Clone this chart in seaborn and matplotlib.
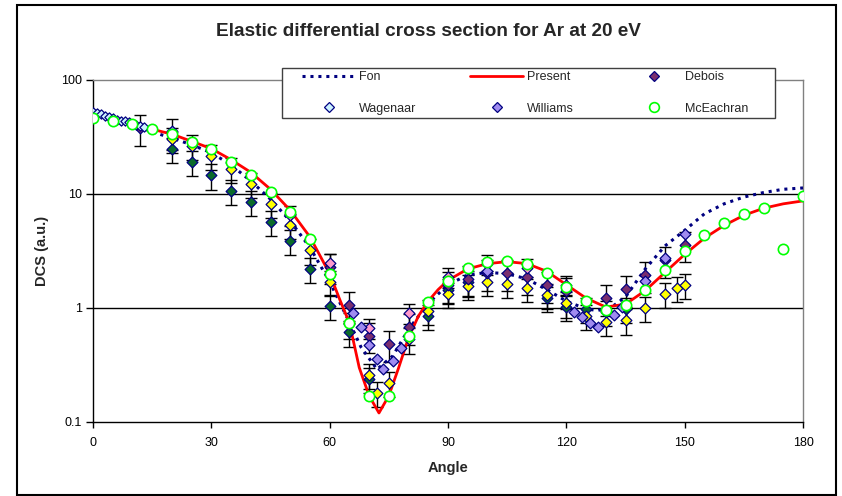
import matplotlib
matplotlib.use("Agg")
import matplotlib.pyplot as plt
import seaborn as sns
import numpy as np
from matplotlib.patches import Rectangle
from matplotlib.lines import Line2D

# ---- data: elastic DCS for Ar at 20 eV ----
present_angle = [0, 5, 10, 15, 20, 25, 30, 35, 40, 45, 50, 55, 60,
                 62.5, 65, 67.5, 70, 72.5, 75, 77.5, 80, 82.5, 85, 87.5, 90,
                 95, 100, 105, 110, 115, 120, 125, 130, 135, 140, 145, 150,
                 155, 160, 165, 170, 175, 180]
present_dcs = [50, 45, 41, 37, 33.5, 29, 25, 20, 15.5, 11, 7.2, 4.2, 2.0,
               1.2, 0.74, 0.3, 0.17, 0.12, 0.17, 0.3, 0.55, 0.85, 1.15, 1.45, 1.75,
               2.2, 2.45, 2.55, 2.45, 2.1, 1.6, 1.22, 1.02, 1.08, 1.42, 2.05, 2.95,
               4.1, 5.3, 6.5, 7.5, 8.2, 8.7]

fon_angle = [0, 5, 10, 15, 20, 25, 30, 35, 40, 45, 50, 55, 60, 65,
             68, 72, 76, 80, 85, 90, 95, 100, 105, 110, 115, 120, 125,
             128, 132, 135, 140, 145, 150, 155, 160, 165, 170, 175, 180]
fon_dcs = [54, 47, 41, 35, 31, 27, 23, 18, 13, 9, 5.8, 3.4, 1.7, 0.75,
           0.45, 0.29, 0.38, 0.65, 1.1, 1.6, 1.95, 2.05, 2.0, 1.8, 1.45, 1.15, 0.98,
           0.95, 1.05, 1.25, 2.2, 3.5, 4.8, 6.7, 8.2, 9.4, 10.3, 11.0, 11.3]

debois_angle = [12, 20, 60, 65, 70, 75, 80, 90, 95, 100, 105, 110, 115, 120,
                130, 135, 140, 145, 150]
debois_dcs = [38, 35, 2.3, 1.06, 0.57, 0.48, 0.68, 1.59, 1.8, 2.03, 2.03, 1.87, 1.59,
              1.41, 1.22, 1.47, 1.93, 2.63, 3.6]

wagenaar_angle = [0, 1, 2, 3, 4, 5, 6, 7, 8, 9, 10, 11, 12, 13]
wagenaar_dcs = [52.5, 51, 50, 48.5, 47.5, 46.5, 45, 44, 43.5, 42.5, 41.5, 40.5, 39.5, 38.5]

williams_angle = [20, 66, 68, 70, 72, 73.5, 76, 78, 100, 122, 124, 126, 128,
                  132, 134, 140, 145, 150]
williams_dcs = [36, 0.9, 0.68, 0.47, 0.36, 0.29, 0.34, 0.45, 2.1, 0.92, 0.83, 0.74, 0.68,
                0.87, 1.02, 1.73, 2.74, 4.5]

mceachran_angle = [0, 5, 10, 15, 20, 25, 30, 35, 40, 45, 50, 55, 60, 65, 70, 75,
                   80, 85, 90, 95, 100, 105, 110, 115, 120, 125, 130, 135, 140,
                   145, 150, 155, 160, 165, 170, 175, 180]
mceachran_dcs = [46.4, 43.7, 41.1, 37.2, 33.6, 28.6, 24.8, 19.1, 14.7, 10.4, 6.95,
                 4.03, 1.99, 0.74, 0.169, 0.169, 0.57, 1.13, 1.73, 2.24, 2.53, 2.58,
                 2.43, 2.03, 1.53, 1.15, 0.96, 1.06, 1.44, 2.15, 3.16, 4.37, 5.57,
                 6.68, 7.54, 3.3, 9.6]

yellow_angle = [20, 25, 30, 35, 40, 45, 50, 55, 60, 65, 70, 72, 75, 80, 85, 90,
                95, 100, 105, 110, 115, 120, 125, 130, 135, 140, 145, 148, 150]
yellow_dcs = [30.4, 26.4, 21.5, 16.6, 12.2, 8.2, 5.35, 3.2, 1.7, 0.72, 0.26, 0.18,
              0.22, 0.53, 0.94, 1.33, 1.56, 1.69, 1.62, 1.5, 1.3, 1.1, 0.85, 0.75,
              0.78, 1.0, 1.33, 1.5, 1.59]

green_angle = [20, 25, 30, 35, 40, 45, 50, 55, 60, 65, 70, 85, 90, 95,
               115, 120, 125, 130, 135]
green_dcs = [24.8, 19.1, 14.6, 10.6, 8.5, 5.7, 3.87, 2.2, 1.04, 0.61, 0.24, 0.85,
             1.45, 1.7, 1.22, 1.03, 0.98, 0.92, 0.98]

pink_angle = [50, 60, 70, 80, 90, 100, 110, 120]
pink_dcs = [6.5, 2.5, 0.67, 0.9, 1.87, 2.43, 2.24, 1.59]

x_ticks = [0, 30, 60, 90, 120, 150, 180]
y_ticks = [0.1, 1, 10, 100]
y_ticklabels = ["0.1", "1", "10", "100"]

# ---- style ----
sns.set_style("ticks")
plt.rcParams['font.family'] = ['Liberation Sans', 'DejaVu Sans']

NAVY = "#000080"
W, H = 842, 496
fig = plt.figure(figsize=(W / 100, H / 100), dpi=100)
ax = fig.add_axes([93 / W, 1 - 422 / H, 710 / W, 342 / H])
ax.set_yscale("log")

# horizontal gridlines at the decades
for v in (1, 10):
    ax.axhline(v, color="black", lw=1.0, zorder=1)


def with_errors(xs, ys, frac, z):
    ys = np.asarray(ys, dtype=float)
    ax.errorbar(xs, ys, yerr=[ys * frac, ys * frac], fmt="none", ecolor="black",
                elinewidth=1.0, capsize=4.5, capthick=1.0, zorder=z)


# error bars of the measured series
with_errors(green_angle, green_dcs, 0.25, 2)
with_errors(yellow_angle, yellow_dcs, 0.25, 2)
with_errors(debois_angle, debois_dcs, 0.3, 2)
with_errors(pink_angle, pink_dcs, 0.2, 2)

# theory curves
sns.lineplot(x=fon_angle, y=fon_dcs, ax=ax, color=NAVY, lw=2.2,
             linestyle=(0, (1.0, 1.6)), sort=False, estimator=None, zorder=3)
sns.lineplot(x=present_angle, y=present_dcs, ax=ax, color="#FF0000", lw=2.0,
             sort=False, estimator=None, zorder=3)

# measured points
dia = dict(marker="D", s=30, edgecolor=NAVY, linewidth=0.9, zorder=4)
sns.scatterplot(x=green_angle, y=green_dcs, ax=ax, color="#0B6B2B", **dia)
sns.scatterplot(x=yellow_angle, y=yellow_dcs, ax=ax, color="#FFFF00", **dia)
sns.scatterplot(x=debois_angle, y=debois_dcs, ax=ax, color="#7A2E6E", **dia)
sns.scatterplot(x=pink_angle, y=pink_dcs, ax=ax, color="#FF99CC", **dia)
sns.scatterplot(x=williams_angle, y=williams_dcs, ax=ax, color="#A08CF0", **dia)
sns.scatterplot(x=wagenaar_angle, y=wagenaar_dcs, ax=ax, color="#CCF2FF",
                marker="D", s=22, edgecolor=NAVY, linewidth=0.9, zorder=4)
sns.scatterplot(x=mceachran_angle, y=mceachran_dcs, ax=ax, color="white",
                marker="o", s=55, edgecolor="#00FF00", linewidth=1.2, zorder=5)

# axes
ax.set_xlim(0, 180)
ax.set_ylim(0.1, 100)
ax.set_xticks(x_ticks)
ax.set_xticklabels([str(t) for t in x_ticks])
ax.set_yticks(y_ticks)
ax.set_yticklabels(y_ticklabels)
ax.yaxis.set_minor_locator(matplotlib.ticker.NullLocator())
ax.tick_params(axis="both", which="major", labelsize=9, colors="black",
               direction="out", width=1.0)
ax.tick_params(axis="y", length=5, pad=3)
ax.tick_params(axis="x", length=4, pad=7)
for side in ("left", "bottom"):
    ax.spines[side].set_color("black")
    ax.spines[side].set_linewidth(1.0)
for side in ("top", "right"):
    ax.spines[side].set_visible(True)
    ax.spines[side].set_color("#808080")
    ax.spines[side].set_linewidth(1.0)

ax.set_xlabel("Angle", fontsize=10.5, fontweight="bold")
ax.xaxis.set_label_coords(0.5, (422 - 468) / 342)
ax.xaxis.label.set_va("center")
ax.set_ylabel("DCS (a.u.)", fontsize=10.5, fontweight="bold")
ax.yaxis.set_label_coords((42 - 93) / 710, 0.5)
ax.yaxis.label.set_va("center")

fig.text(428 / W, 1 - 32 / H, "Elastic differential cross section for Ar at 20 eV",
         ha="center", va="center", fontsize=13.7, fontweight="bold")

# legend: frame drawn as its own box, entries placed inside it
fig.add_artist(Rectangle((282 / W, 1 - 118 / H), (775 - 282) / W, (118 - 68) / H,
                         transform=fig.transFigure, facecolor="white",
                         edgecolor="#404040", lw=1.0, zorder=9))
handles = [
    Line2D([], [], color=NAVY, lw=2.2, linestyle=(0, (1.0, 1.6))),
    Line2D([], [], ls="none", marker="D", ms=5, mfc="#CCF2FF", mec=NAVY, mew=0.9),
    Line2D([], [], color="#FF0000", lw=2.0),
    Line2D([], [], ls="none", marker="D", ms=5.5, mfc="#A08CF0", mec=NAVY, mew=0.9),
    Line2D([], [], ls="none", marker="D", ms=5.5, mfc="#7A2E6E", mec=NAVY, mew=0.9),
    Line2D([], [], ls="none", marker="o", ms=7, mfc="white", mec="#00FF00", mew=1.2),
]
labels = ["Fon", "Wagenaar", "Present", "Williams", "Debois", "McEachran"]
leg = fig.legend(handles, labels, ncol=3, loc="upper left",
                 bbox_to_anchor=(302 / W, 1 - 71 / H), bbox_transform=fig.transFigure,
                 fontsize=9, handlelength=4.24, handletextpad=0.32,
                 columnspacing=4.3, labelspacing=1.58, borderpad=0,
                 borderaxespad=0, frameon=False)
leg.set_zorder(10)

# outer frame of the chart area
fig.add_artist(Rectangle((17 / W, 1 / H), (836 - 17) / W, (495 - 5) / H,
                         transform=fig.transFigure, fill=False,
                         edgecolor="black", lw=1.5))

fig.savefig("out.png", dpi=100)
